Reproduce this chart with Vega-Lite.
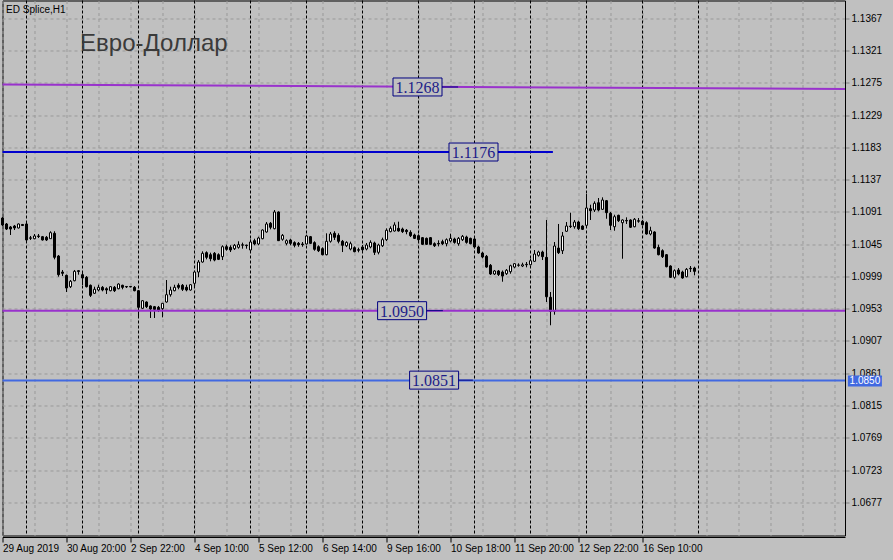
{
"$schema":"https://vega.github.io/schema/vega-lite/v6.json",
"width":842.5,"height":535,
"autosize":{"type":"none"},
"padding":{"left":2.5,"top":0.5,"right":48,"bottom":24.5},
"background":"#C0C0C0",
"view":{"stroke":"#000000","fill":"#C0C0C0"},
"config":{"scale":{"continuousPadding":0},"axis":{"labelOverlap":false,"labelBound":false,"labelFlush":false,"title":null}},
"datasets":{
"candles":[
{"i":0,"o":1.10823,"h":1.10837,"l":1.10709,"c":1.10724},
{"i":1,"o":1.10738,"h":1.10752,"l":1.10652,"c":1.10666},
{"i":2,"o":1.10695,"h":1.10709,"l":1.10581,"c":1.10666},
{"i":3,"o":1.10709,"h":1.10724,"l":1.10652,"c":1.10681},
{"i":4,"o":1.10681,"h":1.10745,"l":1.10674,"c":1.10738},
{"i":5,"o":1.10731,"h":1.10738,"l":1.10709,"c":1.10716},
{"i":6,"o":1.10738,"h":1.10752,"l":1.10495,"c":1.10510},
{"i":7,"o":1.10540,"h":1.10567,"l":1.10510,"c":1.10535},
{"i":8,"o":1.10528,"h":1.10595,"l":1.10520,"c":1.10567},
{"i":9,"o":1.10567,"h":1.10595,"l":1.10538,"c":1.10560},
{"i":10,"o":1.10557,"h":1.10567,"l":1.10502,"c":1.10510},
{"i":11,"o":1.10548,"h":1.10567,"l":1.10495,"c":1.10510},
{"i":12,"o":1.10528,"h":1.10634,"l":1.10524,"c":1.10614},
{"i":13,"o":1.10605,"h":1.10634,"l":1.10234,"c":1.10263},
{"i":14,"o":1.10281,"h":1.10296,"l":1.09987,"c":1.10015},
{"i":15,"o":1.10053,"h":1.10082,"l":1.09996,"c":1.10035},
{"i":16,"o":1.10006,"h":1.10017,"l":1.09768,"c":1.09825},
{"i":17,"o":1.09844,"h":1.09939,"l":1.09825,"c":1.09921},
{"i":18,"o":1.09929,"h":1.10082,"l":1.09921,"c":1.10063},
{"i":19,"o":1.10072,"h":1.10075,"l":1.10015,"c":1.10061},
{"i":20,"o":1.10015,"h":1.10063,"l":1.09868,"c":1.09968},
{"i":21,"o":1.09978,"h":1.09996,"l":1.09833,"c":1.09844},
{"i":22,"o":1.09864,"h":1.09875,"l":1.09697,"c":1.09721},
{"i":23,"o":1.09750,"h":1.09844,"l":1.09740,"c":1.09807},
{"i":24,"o":1.09797,"h":1.09872,"l":1.09778,"c":1.09835},
{"i":25,"o":1.09835,"h":1.09853,"l":1.09778,"c":1.09797},
{"i":26,"o":1.09815,"h":1.09835,"l":1.09740,"c":1.09797},
{"i":27,"o":1.09787,"h":1.09853,"l":1.09778,"c":1.09844},
{"i":28,"o":1.09835,"h":1.09853,"l":1.09768,"c":1.09787},
{"i":29,"o":1.09815,"h":1.09892,"l":1.09807,"c":1.09882},
{"i":30,"o":1.09864,"h":1.09872,"l":1.09807,"c":1.09835},
{"i":31,"o":1.09847,"h":1.09853,"l":1.09825,"c":1.09841},
{"i":32,"o":1.09847,"h":1.09853,"l":1.09835,"c":1.09841},
{"i":33,"o":1.09835,"h":1.09853,"l":1.09778,"c":1.09787},
{"i":34,"o":1.09787,"h":1.09797,"l":1.09416,"c":1.09550},
{"i":35,"o":1.09536,"h":1.09654,"l":1.09526,"c":1.09644},
{"i":36,"o":1.09626,"h":1.09635,"l":1.09540,"c":1.09559},
{"i":37,"o":1.09569,"h":1.09578,"l":1.09398,"c":1.09526},
{"i":38,"o":1.09559,"h":1.09569,"l":1.09398,"c":1.09521},
{"i":39,"o":1.09550,"h":1.09569,"l":1.09483,"c":1.09512},
{"i":40,"o":1.09531,"h":1.09612,"l":1.09407,"c":1.09607},
{"i":41,"o":1.09626,"h":1.09939,"l":1.09616,"c":1.09730},
{"i":42,"o":1.09730,"h":1.09844,"l":1.09702,"c":1.09797},
{"i":43,"o":1.09787,"h":1.09872,"l":1.09778,"c":1.09835},
{"i":44,"o":1.09864,"h":1.09892,"l":1.09807,"c":1.09835},
{"i":45,"o":1.09864,"h":1.09882,"l":1.09783,"c":1.09807},
{"i":46,"o":1.09835,"h":1.09872,"l":1.09778,"c":1.09797},
{"i":47,"o":1.09797,"h":1.09882,"l":1.09787,"c":1.09872},
{"i":48,"o":1.09892,"h":1.10072,"l":1.09835,"c":1.10053},
{"i":49,"o":1.10053,"h":1.10224,"l":1.09978,"c":1.10196},
{"i":50,"o":1.10196,"h":1.10348,"l":1.10186,"c":1.10320},
{"i":51,"o":1.10329,"h":1.10348,"l":1.10234,"c":1.10263},
{"i":52,"o":1.10300,"h":1.10329,"l":1.10206,"c":1.10243},
{"i":53,"o":1.10320,"h":1.10338,"l":1.10206,"c":1.10224},
{"i":54,"o":1.10300,"h":1.10320,"l":1.10224,"c":1.10234},
{"i":55,"o":1.10272,"h":1.10434,"l":1.10224,"c":1.10414},
{"i":56,"o":1.10414,"h":1.10443,"l":1.10357,"c":1.10377},
{"i":57,"o":1.10405,"h":1.10434,"l":1.10338,"c":1.10367},
{"i":58,"o":1.10386,"h":1.10453,"l":1.10367,"c":1.10434},
{"i":59,"o":1.10405,"h":1.10491,"l":1.10386,"c":1.10443},
{"i":60,"o":1.10441,"h":1.10472,"l":1.10386,"c":1.10436},
{"i":61,"o":1.10437,"h":1.10443,"l":1.10386,"c":1.10430},
{"i":62,"o":1.10367,"h":1.10519,"l":1.10357,"c":1.10481},
{"i":63,"o":1.10500,"h":1.10528,"l":1.10434,"c":1.10453},
{"i":64,"o":1.10453,"h":1.10557,"l":1.10434,"c":1.10538},
{"i":65,"o":1.10528,"h":1.10662,"l":1.10520,"c":1.10652},
{"i":66,"o":1.10624,"h":1.10766,"l":1.10614,"c":1.10738},
{"i":67,"o":1.10748,"h":1.10766,"l":1.10662,"c":1.10691},
{"i":68,"o":1.10671,"h":1.10937,"l":1.10662,"c":1.10909},
{"i":69,"o":1.10909,"h":1.10918,"l":1.10495,"c":1.10500},
{"i":70,"o":1.10520,"h":1.10595,"l":1.10500,"c":1.10576},
{"i":71,"o":1.10462,"h":1.10519,"l":1.10434,"c":1.10500},
{"i":72,"o":1.10510,"h":1.10528,"l":1.10434,"c":1.10462},
{"i":73,"o":1.10472,"h":1.10491,"l":1.10405,"c":1.10434},
{"i":74,"o":1.10462,"h":1.10481,"l":1.10414,"c":1.10443},
{"i":75,"o":1.10453,"h":1.10481,"l":1.10414,"c":1.10443},
{"i":76,"o":1.10453,"h":1.10586,"l":1.10443,"c":1.10567},
{"i":77,"o":1.10557,"h":1.10567,"l":1.10453,"c":1.10462},
{"i":78,"o":1.10472,"h":1.10491,"l":1.10357,"c":1.10377},
{"i":79,"o":1.10414,"h":1.10434,"l":1.10338,"c":1.10357},
{"i":80,"o":1.10386,"h":1.10405,"l":1.10291,"c":1.10300},
{"i":81,"o":1.10300,"h":1.10605,"l":1.10291,"c":1.10491},
{"i":82,"o":1.10491,"h":1.10624,"l":1.10472,"c":1.10595},
{"i":83,"o":1.10605,"h":1.10634,"l":1.10510,"c":1.10548},
{"i":84,"o":1.10576,"h":1.10605,"l":1.10462,"c":1.10491},
{"i":85,"o":1.10491,"h":1.10510,"l":1.10338,"c":1.10434},
{"i":86,"o":1.10428,"h":1.10491,"l":1.10409,"c":1.10476},
{"i":87,"o":1.10381,"h":1.10486,"l":1.10362,"c":1.10457},
{"i":88,"o":1.10400,"h":1.10419,"l":1.10334,"c":1.10343},
{"i":89,"o":1.10371,"h":1.10400,"l":1.10334,"c":1.10364},
{"i":90,"o":1.10410,"h":1.10438,"l":1.10353,"c":1.10371},
{"i":91,"o":1.10381,"h":1.10467,"l":1.10362,"c":1.10438},
{"i":92,"o":1.10410,"h":1.10505,"l":1.10391,"c":1.10476},
{"i":93,"o":1.10467,"h":1.10486,"l":1.10296,"c":1.10334},
{"i":94,"o":1.10334,"h":1.10457,"l":1.10305,"c":1.10438},
{"i":95,"o":1.10428,"h":1.10543,"l":1.10410,"c":1.10514},
{"i":96,"o":1.10514,"h":1.10676,"l":1.10495,"c":1.10648},
{"i":97,"o":1.10629,"h":1.10705,"l":1.10619,"c":1.10676},
{"i":98,"o":1.10638,"h":1.10762,"l":1.10629,"c":1.10724},
{"i":99,"o":1.10676,"h":1.10771,"l":1.10629,"c":1.10638},
{"i":100,"o":1.10666,"h":1.10686,"l":1.10610,"c":1.10629},
{"i":101,"o":1.10648,"h":1.10666,"l":1.10591,"c":1.10629},
{"i":102,"o":1.10619,"h":1.10648,"l":1.10552,"c":1.10571},
{"i":103,"o":1.10581,"h":1.10600,"l":1.10524,"c":1.10533},
{"i":104,"o":1.10571,"h":1.10591,"l":1.10481,"c":1.10514},
{"i":105,"o":1.10543,"h":1.10552,"l":1.10438,"c":1.10448},
{"i":106,"o":1.10533,"h":1.10545,"l":1.10438,"c":1.10448},
{"i":107,"o":1.10543,"h":1.10552,"l":1.10438,"c":1.10448},
{"i":108,"o":1.10457,"h":1.10476,"l":1.10410,"c":1.10428},
{"i":109,"o":1.10460,"h":1.10505,"l":1.10419,"c":1.10453},
{"i":110,"o":1.10486,"h":1.10514,"l":1.10438,"c":1.10457},
{"i":111,"o":1.10457,"h":1.10533,"l":1.10419,"c":1.10514},
{"i":112,"o":1.10495,"h":1.10600,"l":1.10476,"c":1.10533},
{"i":113,"o":1.10524,"h":1.10543,"l":1.10457,"c":1.10476},
{"i":114,"o":1.10457,"h":1.10552,"l":1.10428,"c":1.10533},
{"i":115,"o":1.10514,"h":1.10581,"l":1.10495,"c":1.10562},
{"i":116,"o":1.10552,"h":1.10571,"l":1.10457,"c":1.10476},
{"i":117,"o":1.10533,"h":1.10543,"l":1.10448,"c":1.10457},
{"i":118,"o":1.10524,"h":1.10543,"l":1.10391,"c":1.10410},
{"i":119,"o":1.10410,"h":1.10428,"l":1.10315,"c":1.10324},
{"i":120,"o":1.10324,"h":1.10343,"l":1.10248,"c":1.10267},
{"i":121,"o":1.10277,"h":1.10296,"l":1.10115,"c":1.10124},
{"i":122,"o":1.10149,"h":1.10167,"l":1.10011,"c":1.10025},
{"i":123,"o":1.10025,"h":1.10082,"l":1.10011,"c":1.10068},
{"i":124,"o":1.10068,"h":1.10082,"l":1.09996,"c":1.10018},
{"i":125,"o":1.10053,"h":1.10075,"l":1.09915,"c":1.09996},
{"i":126,"o":1.10029,"h":1.10096,"l":1.10011,"c":1.10078},
{"i":127,"o":1.10058,"h":1.10157,"l":1.10029,"c":1.10143},
{"i":128,"o":1.10124,"h":1.10182,"l":1.10106,"c":1.10172},
{"i":129,"o":1.10149,"h":1.10177,"l":1.10129,"c":1.10153},
{"i":130,"o":1.10139,"h":1.10186,"l":1.10124,"c":1.10157},
{"i":131,"o":1.10163,"h":1.10196,"l":1.10120,"c":1.10157},
{"i":132,"o":1.10157,"h":1.10243,"l":1.10149,"c":1.10214},
{"i":133,"o":1.10206,"h":1.10367,"l":1.10196,"c":1.10310},
{"i":134,"o":1.10291,"h":1.10357,"l":1.10272,"c":1.10338},
{"i":135,"o":1.10338,"h":1.10357,"l":1.10224,"c":1.10272},
{"i":136,"o":1.10263,"h":1.10795,"l":1.09626,"c":1.09701},
{"i":137,"o":1.09693,"h":1.09768,"l":1.09294,"c":1.09493},
{"i":138,"o":1.09493,"h":1.10481,"l":1.09445,"c":1.10424},
{"i":139,"o":1.10395,"h":1.10738,"l":1.10310,"c":1.10329},
{"i":140,"o":1.10357,"h":1.10624,"l":1.10310,"c":1.10567},
{"i":141,"o":1.10634,"h":1.10766,"l":1.10624,"c":1.10709},
{"i":142,"o":1.10708,"h":1.10899,"l":1.10681,"c":1.10702},
{"i":143,"o":1.10699,"h":1.10795,"l":1.10671,"c":1.10766},
{"i":144,"o":1.10766,"h":1.10785,"l":1.10652,"c":1.10671},
{"i":145,"o":1.10709,"h":1.10719,"l":1.10652,"c":1.10662},
{"i":146,"o":1.10719,"h":1.11165,"l":1.10699,"c":1.10966},
{"i":147,"o":1.10956,"h":1.11013,"l":1.10795,"c":1.10927},
{"i":148,"o":1.10937,"h":1.11061,"l":1.10909,"c":1.11033},
{"i":149,"o":1.11041,"h":1.11108,"l":1.10918,"c":1.10937},
{"i":150,"o":1.10947,"h":1.11118,"l":1.10937,"c":1.11080},
{"i":151,"o":1.11070,"h":1.11080,"l":1.10813,"c":1.10899},
{"i":152,"o":1.10890,"h":1.10909,"l":1.10652,"c":1.10719},
{"i":153,"o":1.10699,"h":1.10870,"l":1.10642,"c":1.10842},
{"i":154,"o":1.10862,"h":1.10870,"l":1.10766,"c":1.10785},
{"i":155,"o":1.10756,"h":1.10805,"l":1.10243,"c":1.10795},
{"i":156,"o":1.10788,"h":1.10833,"l":1.10738,"c":1.10782},
{"i":157,"o":1.10795,"h":1.10805,"l":1.10681,"c":1.10691},
{"i":158,"o":1.10699,"h":1.10823,"l":1.10691,"c":1.10805},
{"i":159,"o":1.10784,"h":1.10823,"l":1.10756,"c":1.10778},
{"i":160,"o":1.10776,"h":1.10795,"l":1.10719,"c":1.10728},
{"i":161,"o":1.10756,"h":1.10776,"l":1.10586,"c":1.10595},
{"i":162,"o":1.10595,"h":1.10699,"l":1.10576,"c":1.10642},
{"i":163,"o":1.10624,"h":1.10634,"l":1.10386,"c":1.10395},
{"i":164,"o":1.10405,"h":1.10443,"l":1.10291,"c":1.10300},
{"i":165,"o":1.10357,"h":1.10377,"l":1.10253,"c":1.10272},
{"i":166,"o":1.10300,"h":1.10310,"l":1.10120,"c":1.10129},
{"i":167,"o":1.10139,"h":1.10149,"l":1.09968,"c":1.09978},
{"i":168,"o":1.09978,"h":1.10092,"l":1.09958,"c":1.10072},
{"i":169,"o":1.10082,"h":1.10110,"l":1.10006,"c":1.10025},
{"i":170,"o":1.10053,"h":1.10072,"l":1.09958,"c":1.09968},
{"i":171,"o":1.09986,"h":1.10110,"l":1.09978,"c":1.10092},
{"i":172,"o":1.10106,"h":1.10139,"l":1.10053,"c":1.10100},
{"i":173,"o":1.10110,"h":1.10129,"l":1.10006,"c":1.10063}
],
"seps":[{"i":6},{"i":20},{"i":34},{"i":48},{"i":62},{"i":76},{"i":90},{"i":104},{"i":118},{"i":132},{"i":146},{"i":160},{"i":174}],
"boxes":[
{"i":103.75,"p":1.12691,"t":"1.1268","i2":113.9},
{"i":117.75,"p":1.11764,"t":"1.1176","i2":117.75},
{"i":99.9,"p":1.09502,"t":"1.0950","i2":110.1},
{"i":107.9,"p":1.08512,"t":"1.0851","i2":117.6}
]
},
"layer":[
{
"data":{"name":"seps"},
"mark":{"type":"rule","color":"#000000","strokeWidth":1,"strokeDash":[3,2]},
"encoding":{
"x":{"field":"i","type":"quantitative","scale":{"domain":[0,210.625],"nice":false,"zero":false,"padding":0},
"axis":{"title":null,"values":[0,8,16,24,32,40,48,56,64,72,80,88,96,104,112,120,128,136,144,152,160,168,176,184,192,200,208],
"tickCount":40,
"grid":true,"gridColor":"#999999","gridDash":[3,3],"gridWidth":1,
"domain":true,"domainColor":"#000000","offset":1.5,
"tickColor":"#000000","tickSize":5,
"tickOpacity":{"condition":{"test":"datum.value % 16 === 0 && datum.value <= 160","value":1},"value":0},
"labelExpr":"(datum.value % 16 === 0 && datum.value <= 160) ? ['29 Aug 2019','30 Aug 20:00','2 Sep 22:00','4 Sep 10:00','5 Sep 12:00','6 Sep 14:00','9 Sep 16:00','10 Sep 18:00','11 Sep 20:00','12 Sep 22:00','16 Sep 10:00'][datum.value/16] : ''",
"labelAlign":"left","labelBaseline":"top","labelPadding":1,"labelFont":"Liberation Sans","labelFontSize":10,"labelColor":"#000000",
"labelOverlap":false,"labelBound":false,"labelFlush":false}}
}
},
{
"data":{"name":"candles"},
"mark":{"type":"rule","color":"#000000","strokeWidth":1},
"encoding":{
"x":{"field":"i","type":"quantitative","scale":{"domain":[0,210.625],"nice":false,"zero":false,"padding":0}},
"y":{"field":"l","type":"quantitative","scale":{"domain":[1.06297,1.13924],"nice":false,"zero":false,"padding":0},
"axis":{"title":null,"orient":"right","values":[1.0677,1.0723,1.0769,1.0815,1.0861,1.0907,1.0953,1.0999,1.1045,1.1091,1.1137,1.1183,1.1229,1.1275,1.1321,1.1367],
"tickCount":30,
"format":".4f","grid":true,"gridColor":"#999999","gridDash":[3,3],"gridWidth":1,
"domainColor":"#000000","tickColor":"#808080","tickSize":4,"labelPadding":2,
"labelFont":"Liberation Sans","labelFontSize":10,"labelColor":"#000000","labelOverlap":false,"labelBound":false,"labelFlush":false}},
"y2":{"field":"h"}
}
},
{
"data":{"name":"candles"},
"mark":{"type":"bar","orient":"vertical","size":2,"stroke":"#000000","strokeWidth":1},
"encoding":{
"x":{"field":"i","type":"quantitative","scale":{"domain":[0,210.625],"nice":false,"zero":false,"padding":0}},
"y":{"field":"o","type":"quantitative","scale":{"domain":[1.06297,1.13924],"nice":false,"zero":false,"padding":0}},
"y2":{"field":"c"},
"fill":{"condition":{"test":"datum.c > datum.o","value":"#ffffff"},"value":"#000000"}
}
},
{
"data":{"values":[{"i":0,"p":1.12726,"i2":210.625,"p2":1.12664}]},
"mark":{"type":"rule","color":"#9932CC","strokeWidth":2},
"encoding":{
"x":{"field":"i","type":"quantitative","scale":{"domain":[0,210.625],"nice":false,"zero":false,"padding":0}},
"x2":{"field":"i2"},
"y":{"field":"p","type":"quantitative","scale":{"domain":[1.06297,1.13924],"nice":false,"zero":false,"padding":0}},
"y2":{"field":"p2"}
}
},
{
"data":{"values":[{"i":0,"i2":137.6,"p":1.11764}]},
"mark":{"type":"rule","color":"#0000CD","strokeWidth":2},
"encoding":{
"x":{"field":"i","type":"quantitative","scale":{"domain":[0,210.625],"nice":false,"zero":false,"padding":0}},
"x2":{"field":"i2"},
"y":{"field":"p","type":"quantitative","scale":{"domain":[1.06297,1.13924],"nice":false,"zero":false,"padding":0}}
}
},
{
"data":{"values":[{"p":1.09502}]},
"mark":{"type":"rule","color":"#9932CC","strokeWidth":2},
"encoding":{
"y":{"field":"p","type":"quantitative","scale":{"domain":[1.06297,1.13924],"nice":false,"zero":false,"padding":0}}
}
},
{
"data":{"values":[{"p":1.08505}]},
"mark":{"type":"rule","color":"#4169E1","strokeWidth":2},
"encoding":{
"y":{"field":"p","type":"quantitative","scale":{"domain":[1.06297,1.13924],"nice":false,"zero":false,"padding":0}}
}
},
{
"data":{"name":"boxes"},
"mark":{"type":"rule","color":"#000080","strokeWidth":1},
"encoding":{
"x":{"field":"i","type":"quantitative","scale":{"domain":[0,210.625],"nice":false,"zero":false,"padding":0}},
"x2":{"field":"i2"},
"y":{"field":"p","type":"quantitative","scale":{"domain":[1.06297,1.13924],"nice":false,"zero":false,"padding":0}}
}
},
{
"data":{"name":"boxes"},
"mark":{"type":"point","shape":"M-1,-0.367H1V0.367H-1Z","size":2401,"filled":true,"fill":"#C0C0C0","stroke":"#000080","strokeWidth":1,"opacity":1},
"encoding":{
"x":{"field":"i","type":"quantitative","scale":{"domain":[0,210.625],"nice":false,"zero":false,"padding":0}},
"y":{"field":"p","type":"quantitative","scale":{"domain":[1.06297,1.13924],"nice":false,"zero":false,"padding":0}}
}
},
{
"data":{"name":"boxes"},
"mark":{"type":"text","font":"Liberation Serif","fontSize":16,"color":"#1c1c88","align":"center","baseline":"middle","dy":1},
"encoding":{
"x":{"field":"i","type":"quantitative","scale":{"domain":[0,210.625],"nice":false,"zero":false,"padding":0}},
"y":{"field":"p","type":"quantitative","scale":{"domain":[1.06297,1.13924],"nice":false,"zero":false,"padding":0}},
"text":{"field":"t"}
}
},
{
"data":{"values":[{"i":215.6,"p":1.0850,"t":"1.0850"}]},
"mark":{"type":"point","shape":"M-1,-0.324H1V0.324H-1Z","size":1156,"filled":true,"fill":"#4169E1","strokeWidth":0,"opacity":1},
"encoding":{
"x":{"field":"i","type":"quantitative","scale":{"domain":[0,210.625],"nice":false,"zero":false,"padding":0}},
"y":{"field":"p","type":"quantitative","scale":{"domain":[1.06297,1.13924],"nice":false,"zero":false,"padding":0}}
}
},
{
"data":{"values":[{"i":215.6,"p":1.0850,"t":"1.0850"}]},
"mark":{"type":"text","font":"Liberation Sans","fontSize":10,"color":"#ffffff","align":"center","baseline":"middle"},
"encoding":{
"x":{"field":"i","type":"quantitative","scale":{"domain":[0,210.625],"nice":false,"zero":false,"padding":0}},
"y":{"field":"p","type":"quantitative","scale":{"domain":[1.06297,1.13924],"nice":false,"zero":false,"padding":0}},
"text":{"field":"t"}
}
},
{
"data":{"values":[{"i":19.4,"p":1.13208,"t":"Евро-Доллар"}]},
"mark":{"type":"text","font":"Liberation Sans","fontSize":24,"color":"#3a3a3a","align":"left","baseline":"alphabetic"},
"encoding":{
"x":{"field":"i","type":"quantitative","scale":{"domain":[0,210.625],"nice":false,"zero":false,"padding":0}},
"y":{"field":"p","type":"quantitative","scale":{"domain":[1.06297,1.13924],"nice":false,"zero":false,"padding":0}},
"text":{"field":"t"}
}
},
{
"data":{"values":[{"i":0.9,"p":1.1375,"t":"ED Splice,H1"}]},
"mark":{"type":"text","font":"Liberation Sans","fontSize":10,"color":"#000000","align":"left","baseline":"alphabetic"},
"encoding":{
"x":{"field":"i","type":"quantitative","scale":{"domain":[0,210.625],"nice":false,"zero":false,"padding":0}},
"y":{"field":"p","type":"quantitative","scale":{"domain":[1.06297,1.13924],"nice":false,"zero":false,"padding":0}},
"text":{"field":"t"}
}
}
]
}
